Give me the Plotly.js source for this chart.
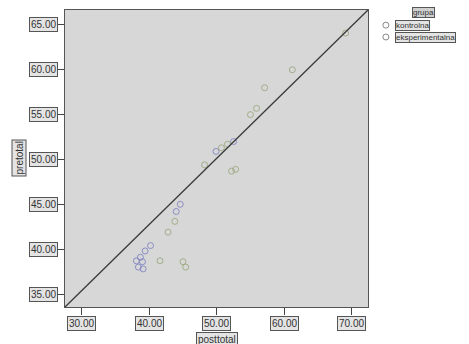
<!DOCTYPE html>
<html><head><meta charset="utf-8">
<script src="https://cdn.plot.ly/plotly-3.0.1.min.js"></script>
<style>html,body{margin:0;padding:0;background:#fff}#c{width:469px;height:344px}</style>
</head><body><div id="c"></div>
<script>
const groupNames = ["kontrolna", "eksperimentalna"];
const groupColors = ["rgba(115,120,190,0.75)", "rgba(145,160,115,0.75)"];
const legendTitle = "grupa";
const xTitle = "posttotal";
const yTitle = "pretotal";
const xTickVals = [30, 40, 50, 60, 70];
const xTickText = ["30.00", "40.00", "50.00", "60.00", "70.00"];
const yTickVals = [35, 40, 45, 50, 55, 60, 65];
const yTickText = ["35.00", "40.00", "45.00", "50.00", "55.00", "60.00", "65.00"];
const ctrlX = [38.7, 39.0, 38.4, 39.4, 40.2, 38.1, 39.1, 52.5, 49.9, 44.6, 44.0];
const ctrlY = [39.1, 38.6, 38.0, 39.8, 40.4, 38.7, 37.8, 52.0, 50.9, 45.0, 44.2];
const expX = [41.6, 45.0, 45.4, 57.1, 61.2, 69.1, 55.9, 55.0, 51.6, 50.7, 52.8, 52.2, 48.2, 43.8, 42.8];
const expY = [38.7, 38.6, 38.0, 58.0, 60.0, 64.1, 55.7, 55.0, 51.7, 51.3, 48.9, 48.7, 49.4, 43.1, 41.9];
const xRange = [27.53, 72.41];
const yRange = [33.55, 66.67];

const font = {family: "Liberation Sans, Arial, sans-serif", size: 10, color: "#333"};
const legFont = {family: "Liberation Sans, Arial, sans-serif", size: 8, color: "#333"};
const box = {bordercolor: "#555", borderwidth: 1, borderpad: 1, bgcolor: "#e4e4e4"};
const ann = [];
xTickVals.forEach((v, i) => ann.push(Object.assign({x: v, xref: "x", y: 0, yref: "paper", yshift: -9,
  yanchor: "top", xanchor: "center", text: xTickText[i], showarrow: false, font: font}, box)));
yTickVals.forEach((v, i) => ann.push(Object.assign({x: 0, xref: "paper", y: v, yref: "y", xshift: -7,
  xanchor: "right", yanchor: "middle", text: yTickText[i], showarrow: false, font: font}, box)));
ann.push(Object.assign({x: 0.503, xref: "paper", y: 0, yref: "paper", yshift: -25, yanchor: "top",
  text: xTitle, showarrow: false, font: font}, box));
ann.push(Object.assign({x: 0, xref: "paper", y: 0.5, yref: "paper", xshift: -46, xanchor: "center",
  text: yTitle, textangle: -90, showarrow: false, font: font}, box));
// legend (manual)
const legBox = {bordercolor: "#555", borderwidth: 1, borderpad: 0, bgcolor: "#e4e4e4"};
ann.push(Object.assign({x: 1.182, xref: "paper", y: 0.99, yref: "paper", xanchor: "center", yanchor: "middle",
  text: legendTitle, showarrow: false, font: legFont}, legBox, {bgcolor: "#cfcfcf"}));
const legY = [0.949, 0.909];
groupNames.forEach((g, i) => ann.push(Object.assign({x: 1.089, xref: "paper", y: legY[i], yref: "paper",
  xanchor: "left", yanchor: "middle", text: g, showarrow: false, font: legFont}, legBox)));
const shapes = [{type: "line", xref: "paper", yref: "paper", x0: 0, y0: 0, x1: 1, y1: 1,
  line: {color: "#3a3a3a", width: 1.3}}];
groupNames.forEach((g, i) => shapes.push({type: "circle", xref: "paper", yref: "paper",
  xsizemode: "pixel", ysizemode: "pixel", xanchor: 1.059, yanchor: legY[i],
  x0: -3, x1: 3, y0: -3, y1: 3, line: {color: "#888", width: 1}}));

const mk = (c) => ({symbol: "circle-open", size: 6, color: c, line: {width: 1}});
const data = [
  {type: "scatter", mode: "markers", name: groupNames[0], x: ctrlX, y: ctrlY, marker: mk(groupColors[0])},
  {type: "scatter", mode: "markers", name: groupNames[1], x: expX, y: expY, marker: mk(groupColors[1])}
];
const axisBase = {showticklabels: false, ticks: "outside", ticklen: 7, tickcolor: "#444", showgrid: false,
  zeroline: false, showline: true, linecolor: "#555", linewidth: 1, mirror: true};
const layout = {
  width: 469, height: 344,
  margin: {l: 65, r: 101, t: 10, b: 37, autoexpand: false},
  paper_bgcolor: "#ffffff", plot_bgcolor: "#d6d7d6",
  xaxis: Object.assign({range: xRange, tickvals: xTickVals}, axisBase),
  yaxis: Object.assign({range: yRange, tickvals: yTickVals}, axisBase),
  shapes: shapes,
  annotations: ann,
  showlegend: false
};
Plotly.newPlot("c", data, layout, {displayModeBar: false, staticPlot: true});
</script></body></html>
